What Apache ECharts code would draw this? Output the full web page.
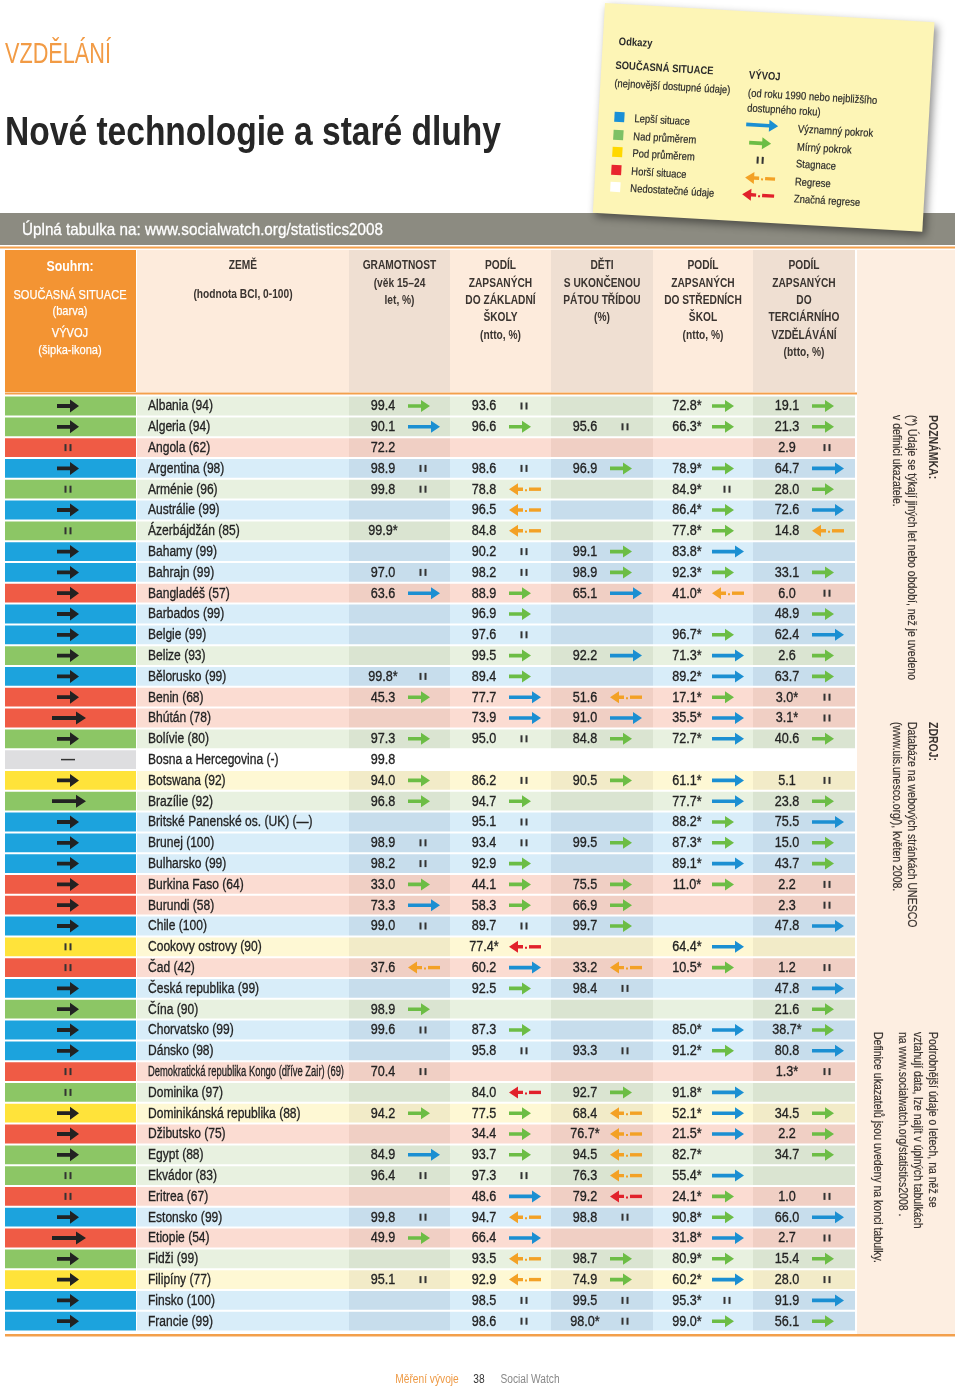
<!DOCTYPE html>
<html><head><meta charset="utf-8">
<script src="https://cdn.jsdelivr.net/npm/echarts@6/dist/echarts.min.js"></script>
<style>html,body{margin:0;padding:0;background:#fff}#c{width:960px;height:1392px}</style>
</head><body><div id="c"></div>
<script>
// ---------------- DATA ----------------
const countries = ['Albania (94)','Algeria (94)','Angola (62)','Argentina (98)','Arménie (96)','Austrálie (99)','Ázerbájdžán (85)','Bahamy (99)','Bahrajn (99)','Bangladéš (57)','Barbados (99)','Belgie (99)','Belize (93)','Bělorusko (99)','Benin (68)','Bhútán (78)','Bolívie (80)','Bosna a Hercegovina (-)','Botswana (92)','Brazílie (92)','Britské Panenské os. (UK) (—)','Brunej (100)','Bulharsko (99)','Burkina Faso (64)','Burundi (58)','Chile (100)','Cookovy ostrovy (90)','Čad (42)','Česká republika (99)','Čína (90)','Chorvatsko (99)','Dánsko (98)','Demokratická republika Kongo (dříve Zair) (69)','Dominika (97)','Dominikánská republika (88)','Džibutsko (75)','Egypt (88)','Ekvádor (83)','Eritrea (67)','Estonsko (99)','Etiopie (54)','Fidži (99)','Filipíny (77)','Finsko (100)','Francie (99)'];
// current situation: b better, g above average, y below average, r worse, n insufficient data
const status = ['g','g','r','b','g','b','g','b','b','r','b','b','g','b','r','r','g','n','y','g','b','b','b','r','r','b','y','r','b','g','b','b','r','g','y','r','g','g','r','b','r','g','y','b','b'];
// summary evolution: U progress, L strong progress, S stagnation, N none
const summaryTrend = ['U','U','S','U','S','U','S','U','U','U','U','U','U','U','U','L','U','N','U','L','U','U','U','U','U','U','S','S','U','U','U','U','S','S','U','U','U','S','S','U','L','U','U','U','U'];
// trends: B significant progress, G slight progress, S stagnation, O regression, R significant regression, '' none
const literacy = [99.4,90.1,72.2,98.9,99.8,null,99.9,null,97.0,63.6,null,null,null,99.8,45.3,null,97.3,99.8,94.0,96.8,null,98.9,98.2,33.0,73.3,99.0,null,37.6,null,98.9,99.6,null,70.4,null,94.2,null,84.9,96.4,null,99.8,49.9,null,95.1,null,null];
const literacyTrend = ['G','B','','S','S','','','','S','B','','','','S','G','','G','','G','G','','S','S','G','B','S','','O','','G','S','','S','','G','','B','S','','S','G','','S','',''];
const literacyStar = [6,13];
const primary = [93.6,96.6,null,98.6,78.8,96.5,84.8,90.2,98.2,88.9,96.9,97.6,99.5,89.4,77.7,73.9,95.0,null,86.2,94.7,95.1,93.4,92.9,44.1,58.3,89.7,77.4,60.2,92.5,null,87.3,95.8,null,84.0,77.5,34.4,93.7,97.3,48.6,94.7,66.4,93.5,92.9,98.5,98.6];
const primaryTrend = ['S','G','','S','O','O','O','S','S','G','G','S','G','G','B','B','S','','S','G','S','S','G','G','G','S','R','B','G','','G','S','','R','G','G','G','S','B','O','B','O','O','S','S'];
const primaryStar = [26];
const grade5 = [null,95.6,null,96.9,null,null,null,99.1,98.9,65.1,null,null,92.2,null,51.6,91.0,84.8,null,90.5,null,null,99.5,null,75.5,66.9,99.7,null,33.2,98.4,null,null,93.3,null,92.7,68.4,76.7,94.5,76.3,79.2,98.8,null,98.7,74.9,99.5,98.0];
const grade5Trend = ['','S','','G','','','','G','G','B','','','B','','O','B','G','','G','','','G','','G','G','G','','O','S','','','S','','G','O','O','O','O','R','S','','G','G','S','S'];
const grade5Star = [35,44];
const secondary = [72.8,66.3,null,78.9,84.9,86.4,77.8,83.8,92.3,41.0,null,96.7,71.3,89.2,17.1,35.5,72.7,null,61.1,77.7,88.2,87.3,89.1,11.0,null,null,64.4,10.5,null,null,85.0,91.2,null,91.8,52.1,21.5,82.7,55.4,24.1,90.8,31.8,80.9,60.2,95.3,99.0];
const secondaryTrend = ['G','G','','G','S','G','G','B','G','O','','G','B','B','G','B','B','','B','B','G','G','B','G','','','B','G','','','B','G','','B','B','B','','B','G','G','B','G','B','S','G'];
const secondaryStar = [0,1,3,4,5,6,7,8,9,11,12,13,14,15,16,18,19,20,21,22,23,26,27,30,31,33,34,35,36,37,38,39,40,41,42,43,44];
const tertiary = [19.1,21.3,2.9,64.7,28.0,72.6,14.8,null,33.1,6.0,48.9,62.4,2.6,63.7,3.0,3.1,40.6,null,5.1,23.8,75.5,15.0,43.7,2.2,2.3,47.8,null,1.2,47.8,21.6,38.7,80.8,1.3,null,34.5,2.2,34.7,null,1.0,66.0,2.7,15.4,28.0,91.9,56.1];
const tertiaryTrend = ['G','G','S','B','G','B','O','','G','S','G','B','G','G','S','S','G','','S','G','B','G','G','S','S','B','','S','B','G','G','B','S','','G','G','G','','S','B','S','G','S','B','G'];
const tertiaryStar = [14,15,30,32];

const headerSummary = ['Souhrn:','SOUČASNÁ SITUACE','(barva)','VÝVOJ','(šipka-ikona)'];
const headerCountry = ['ZEMĚ','(hodnota BCI, 0-100)'];
const headerColumns = [
  ['GRAMOTNOST','(věk 15–24','let, %)'],
  ['PODÍL','ZAPSANÝCH','DO ZÁKLADNÍ','ŠKOLY','(ntto, %)'],
  ['DĚTI','S UKONČENOU','PÁTOU TŘÍDOU','(%)'],
  ['PODÍL','ZAPSANÝCH','DO STŘEDNÍCH','ŠKOL','(ntto, %)'],
  ['PODÍL','ZAPSANÝCH','DO','TERCIÁRNÍHO','VZDĚLÁVÁNÍ','(btto, %)']
];
const legendStatus = ['Lepší situace','Nad průměrem','Pod průměrem','Horší situace','Nedostatečné údaje'];
const legendTrend = ['Významný pokrok','Mírný pokrok','Stagnace','Regrese','Značná regrese'];

// ---------------- STYLE / LAYOUT ----------------
const FAM = '"Liberation Sans", Arial, Helvetica, sans-serif';
const BLUE = '#1B8FD2', GREEN = '#6CBD45', ORANGE = '#F3A125', RED = '#E1212B', DARK = '#222222';
const STATUS = {
  b:{solid:'#1CA3DD', light:'#D8EDF9', dark:'#C7DDEC'},
  g:{solid:'#8CC665', light:'#E8F1E0', dark:'#DAE4D1'},
  y:{solid:'#FFE33A', light:'#FEF8D4', dark:'#F2EBC8'},
  r:{solid:'#EF5B45', light:'#FBDCD2', dark:'#F0CFC4'},
  n:{solid:'#DEDEE0', light:'#FFFFFF', dark:'#FFFFFF'}
};
const SUM_L = 5, SUM_R = 136;
const COLS = [{l:137,r:349,dark:false},{l:349,r:450,dark:true},{l:450,r:551,dark:false},{l:551,r:653,dark:true},{l:653,r:753,dark:false},{l:753,r:855,dark:true}];
const ROW_H = 20.8, GRID_TOP = 395.6;
const GRID_BOTTOM = 1392 - (GRID_TOP + countries.length * ROW_H);

const mctx = document.createElement('canvas').getContext('2d');
function tw(text, font){ mctx.font = font; return mctx.measureText(text).width; }
function textEl(text, x, y, o){
  o = o || {};
  const size = o.size || 12;
  const font = (o.bold ? 'bold ' : '') + size + 'px ' + FAM;
  let sx = o.sx || 0.85;
  if (o.fitW) sx = o.fitW / tw(text, font);
  if (o.maxW) sx = Math.min(sx, o.maxW / tw(text, font));
  const al = o.align || 'left';
  const fill = o.color || '#333';
  const style = {text:text, x:0, y:0, font:font, fill:fill, align:al, textAlign:al,
      verticalAlign:o.va || 'middle', textVerticalAlign:o.va || 'middle'};
  if (o.heavy) { style.stroke = fill; style.lineWidth = o.heavy; }
  return {type:'text', x:x, y:y, rotation:o.rot || 0, scaleX:sx, silent:true, style:style};
}
function arrowR(x0, y, L, color, t, hw, hh){
  t = t || 3.6; hw = hw || 9; hh = hh || 6;
  return [{type:'polygon', shape:{points:[[x0,y-t/2],[x0+L-hw,y-t/2],[x0+L-hw,y-hh],[x0+L,y],[x0+L-hw,y+hh],[x0+L-hw,y+t/2],[x0,y+t/2]]}, style:{fill:color}}];
}
function arrowL(x0, y, L, color){
  const t = 3.4, hw = 9, hh = 6;
  return [
    {type:'polygon', shape:{points:[[x0,y],[x0+hw,y-hh],[x0+hw,y-t/2],[x0+hw+5,y-t/2],[x0+hw+5,y+t/2],[x0+hw,y+t/2],[x0+hw,y+hh]]}, style:{fill:color}},
    {type:'rect', shape:{x:x0+hw+7, y:y, width:2, height:2}, style:{fill:color}},
    {type:'rect', shape:{x:x0+hw+11, y:y-t/2, width:L-hw-11, height:t}, style:{fill:color}}
  ];
}
function stag(cx, y, color){
  return [
    {type:'rect', shape:{x:cx-3.5, y:y-3.5, width:2, height:7}, style:{fill:color}},
    {type:'rect', shape:{x:cx+1.5, y:y-3.5, width:2, height:7}, style:{fill:color}}
  ];
}
function trendIcon(code, x0, cx, y){
  if (code === 'B') return arrowR(x0, y, 32, BLUE);
  if (code === 'G') return arrowR(x0, y, 22, GREEN);
  if (code === 'S') return stag(cx, y, '#333');
  if (code === 'O') return arrowL(x0, y, 32, ORANGE);
  if (code === 'R') return arrowL(x0, y, 32, RED);
  return [];
}

// ---------------- SERIES ----------------
function renderRow(params, api){
  const i = params.dataIndex;
  const c = api.coord([0, i]);
  const h = api.size([0, 1])[1];
  const X = v => api.coord([v, i])[0];
  const cy = c[1], y0 = cy - h/2 + 1, hh = h - 2;
  const st = STATUS[status[i]];
  const ch = [];
  ch.push({type:'rect', shape:{x:X(SUM_L), y:y0, width:X(SUM_R)-X(SUM_L), height:hh}, style:{fill:st.solid}});
  COLS.forEach(col => ch.push({type:'rect', shape:{x:X(col.l), y:y0, width:X(col.r)-X(col.l), height:hh}, style:{fill:col.dark ? st.dark : st.light}}));
  const sc = X(68);
  const t = summaryTrend[i];
  if (t === 'U') ch.push(...arrowR(sc-11, cy, 22, DARK, 3.8, 9, 6.5));
  else if (t === 'L') ch.push(...arrowR(sc-16, cy, 34, DARK, 3.8, 10, 6.5));
  else if (t === 'S') ch.push(...stag(sc, cy, '#333'));
  else if (t === 'N') ch.push({type:'rect', shape:{x:sc-7, y:cy-0.75, width:14, height:1.5}, style:{fill:'#333'}});
  ch.push(textEl(countries[i], X(148), cy + 0.5, {size:14, sx:0.86, maxW:196, color:'#222', heavy:0.3}));
  return {type:'group', children:ch};
}

const valueCols = [
  {v:literacy, t:literacyTrend, s:literacyStar},
  {v:primary, t:primaryTrend, s:primaryStar},
  {v:grade5, t:grade5Trend, s:grade5Star},
  {v:secondary, t:secondaryTrend, s:secondaryStar},
  {v:tertiary, t:tertiaryTrend, s:tertiaryStar}
];
const cells = [];
valueCols.forEach((col, c) => {
  col.v.forEach((val, i) => {
    if (val === null) return;
    cells.push({c:c, i:i, value:val, trend:col.t[i], star:col.s.indexOf(i) >= 0});
  });
});
function renderCell(params, api){
  const cell = cells[params.dataIndex];
  const left = COLS[cell.c + 1].l;
  const X = v => api.coord([v, cell.i])[0];
  const cy = api.coord([0, cell.i])[1];
  const ch = [];
  ch.push(textEl(cell.value.toFixed(1) + (cell.star ? '*' : ''), X(left + 34), cy + 0.5, {size:14, sx:0.9, align:'center', color:'#222', heavy:0.3}));
  ch.push(...trendIcon(cell.trend, X(left + 59), X(left + 74), cy));
  return {type:'group', children:ch};
}

// ---------------- GRAPHIC (static page furniture) ----------------
const G = [];
G.push(textEl('VZDĚLÁNÍ', 5, 55, {size:30, fitW:106, color:'#F29B45'}));
G.push(textEl('Nové technologie a staré dluhy', 5, 134, {size:41, bold:true, fitW:496, color:'#262626'}));
G.push({type:'rect', shape:{x:0, y:213, width:955, height:32}, style:{fill:'#8C8B81'}});
G.push(textEl('Úplná tabulka na: www.socialwatch.org/statistics2008', 22, 230, {size:17, fitW:361, color:'#FFFFFF', heavy:0.3}));
G.push({type:'rect', shape:{x:0, y:246.5, width:955, height:2}, style:{fill:'#F3A04C'}});
// header backgrounds
G.push({type:'rect', shape:{x:SUM_L, y:250, width:SUM_R-SUM_L, height:142}, style:{fill:'#F39433'}});
COLS.forEach(col => G.push({type:'rect', shape:{x:col.l, y:250, width:col.r-col.l, height:142}, style:{fill:col.dark ? '#EFDFD2' : '#FDEBDC'}}));
G.push({type:'rect', shape:{x:857, y:250, width:98, height:1084}, style:{fill:'#FDEEE1'}});
G.push({type:'rect', shape:{x:SUM_L, y:392.5, width:852, height:2}, style:{fill:'#F3A04C'}});
G.push({type:'rect', shape:{x:SUM_L, y:1334, width:950, height:2.5}, style:{fill:'#F3A04C'}});
// header texts
const sumY = [267, 295, 311, 333, 350];
headerSummary.forEach((s, k) => G.push(textEl(s, 70, sumY[k], {size:k === 0 ? 15 : 13.5, bold:k === 0, align:'center', color:'#FFFFFF', sx:0.82, heavy:k === 0 ? 0 : 0.25})));
G.push(textEl(headerCountry[0], 243, 266, {size:12, bold:true, align:'center', color:'#3A3430'}));
G.push(textEl(headerCountry[1], 243, 295, {size:12, bold:true, align:'center', color:'#3A3430'}));
headerColumns.forEach((lines, c) => {
  const cx = (COLS[c+1].l + COLS[c+1].r) / 2;
  lines.forEach((s, k) => G.push(textEl(s, cx, 266 + k * 17.3, {size:12, bold:true, align:'center', color:'#3A3430'})));
});
// right side notes (rotated)
const ROT = -Math.PI / 2;
const noteOpt = (extra) => Object.assign({size:12.5, sx:0.84, rot:ROT, color:'#3A3430', heavy:0.2}, extra || {});
G.push(textEl('POZNÁMKA:', 932, 415, noteOpt({bold:true, heavy:0})));
G.push(textEl('(*) Údaje se týkají jiných let nebo období, než je uvedeno', 911, 415, noteOpt()));
G.push(textEl('v definici ukazatele.', 896, 415, noteOpt()));
G.push(textEl('ZDROJ:', 932, 722, noteOpt({bold:true, heavy:0})));
G.push(textEl('Databáze na webových stránkách UNESCO', 911, 722, noteOpt()));
G.push(textEl('(www.uis.unesco.org/), květen 2008.', 896, 722, noteOpt()));
G.push(textEl('Podrobnější údaje o letech, na něž se', 932, 1032, noteOpt()));
G.push(textEl('vztahují data, lze najít v úplných tabulkách', 917, 1032, noteOpt()));
G.push(textEl('na www.socialwatch.org/statistics2008 .', 902, 1032, noteOpt()));
G.push(textEl('Definice ukazatelů jsou uvedeny na konci tabulky.', 877, 1032, noteOpt()));
// footer
G.push(textEl('Měření vývoje', 427, 1380, {size:12, align:'center', color:'#EE9A45'}));
G.push(textEl('38', 479, 1380, {size:12, align:'center', color:'#333'}));
G.push(textEl('Social Watch', 530, 1380, {size:12, align:'center', color:'#888'}));
// legend note (rotated sticky note)
const note = [];
note.push({type:'rect', shape:{x:0, y:0, width:330, height:210}, style:{fill:'#FDF5B6', shadowBlur:8, shadowColor:'rgba(0,0,0,0.45)', shadowOffsetX:3, shadowOffsetY:4}});
const lo = (extra) => Object.assign({size:11, sx:0.86, color:'#2A2A2A', heavy:0.2}, extra || {});
note.push(textEl('Odkazy', 16, 38, lo({bold:true, heavy:0})));
note.push(textEl('SOUČASNÁ SITUACE', 14, 62, lo({bold:true, heavy:0})));
note.push(textEl('(nejnovější dostupné údaje)', 14, 80, lo()));
note.push(textEl('VÝVOJ', 148, 64, lo({bold:true, heavy:0})));
note.push(textEl('(od roku 1990 nebo nejbližšího', 148, 82, lo()));
note.push(textEl('dostupného roku)', 148, 97, lo()));
const legY = [113, 131, 148, 166, 183];
const sqCol = ['#1A8FD6', '#7DC165', '#FFD800', '#E8252E', '#FFFFFF'];
legendStatus.forEach((s, k) => {
  note.push({type:'rect', shape:{x:16, y:legY[k]-5, width:10, height:10}, style:{fill:sqCol[k]}});
  note.push(textEl(s, 36, legY[k] + 1, lo()));
});
note.push(...arrowR(148, legY[0], 32, BLUE));
note.push(...arrowR(152, legY[1], 22, GREEN));
note.push(...stag(164, legY[2], '#333'));
note.push(...arrowL(150, legY[3], 30, ORANGE));
note.push(...arrowL(148, legY[4], 32, RED));
legendTrend.forEach((s, k) => note.push(textEl(s, 200, legY[k] + 2, lo())));
G.push({type:'group', x:605, y:3, rotation:-0.058, children:note});

// ---------------- CHART ----------------
const chart = echarts.init(document.getElementById('c'), null, {renderer:'canvas', width:960, height:1392});
chart.setOption({
  animation:false,
  backgroundColor:'#FFFFFF',
  grid:{left:0, right:0, top:GRID_TOP, bottom:GRID_BOTTOM},
  xAxis:{type:'value', min:0, max:960, show:false},
  yAxis:{type:'category', data:countries, inverse:true, show:false},
  series:[
    {type:'custom', name:'rows', renderItem:renderRow, data:countries.map((n, i) => [0, i]), encode:{x:0, y:1}, clip:false, silent:true, z:2},
    {type:'custom', name:'cells', renderItem:renderCell, data:cells.map(c => [COLS[c.c+1].l, c.i]), encode:{x:0, y:1}, clip:false, silent:true, z:3}
  ],
  graphic:{elements:G}
});
</script>
</body></html>
